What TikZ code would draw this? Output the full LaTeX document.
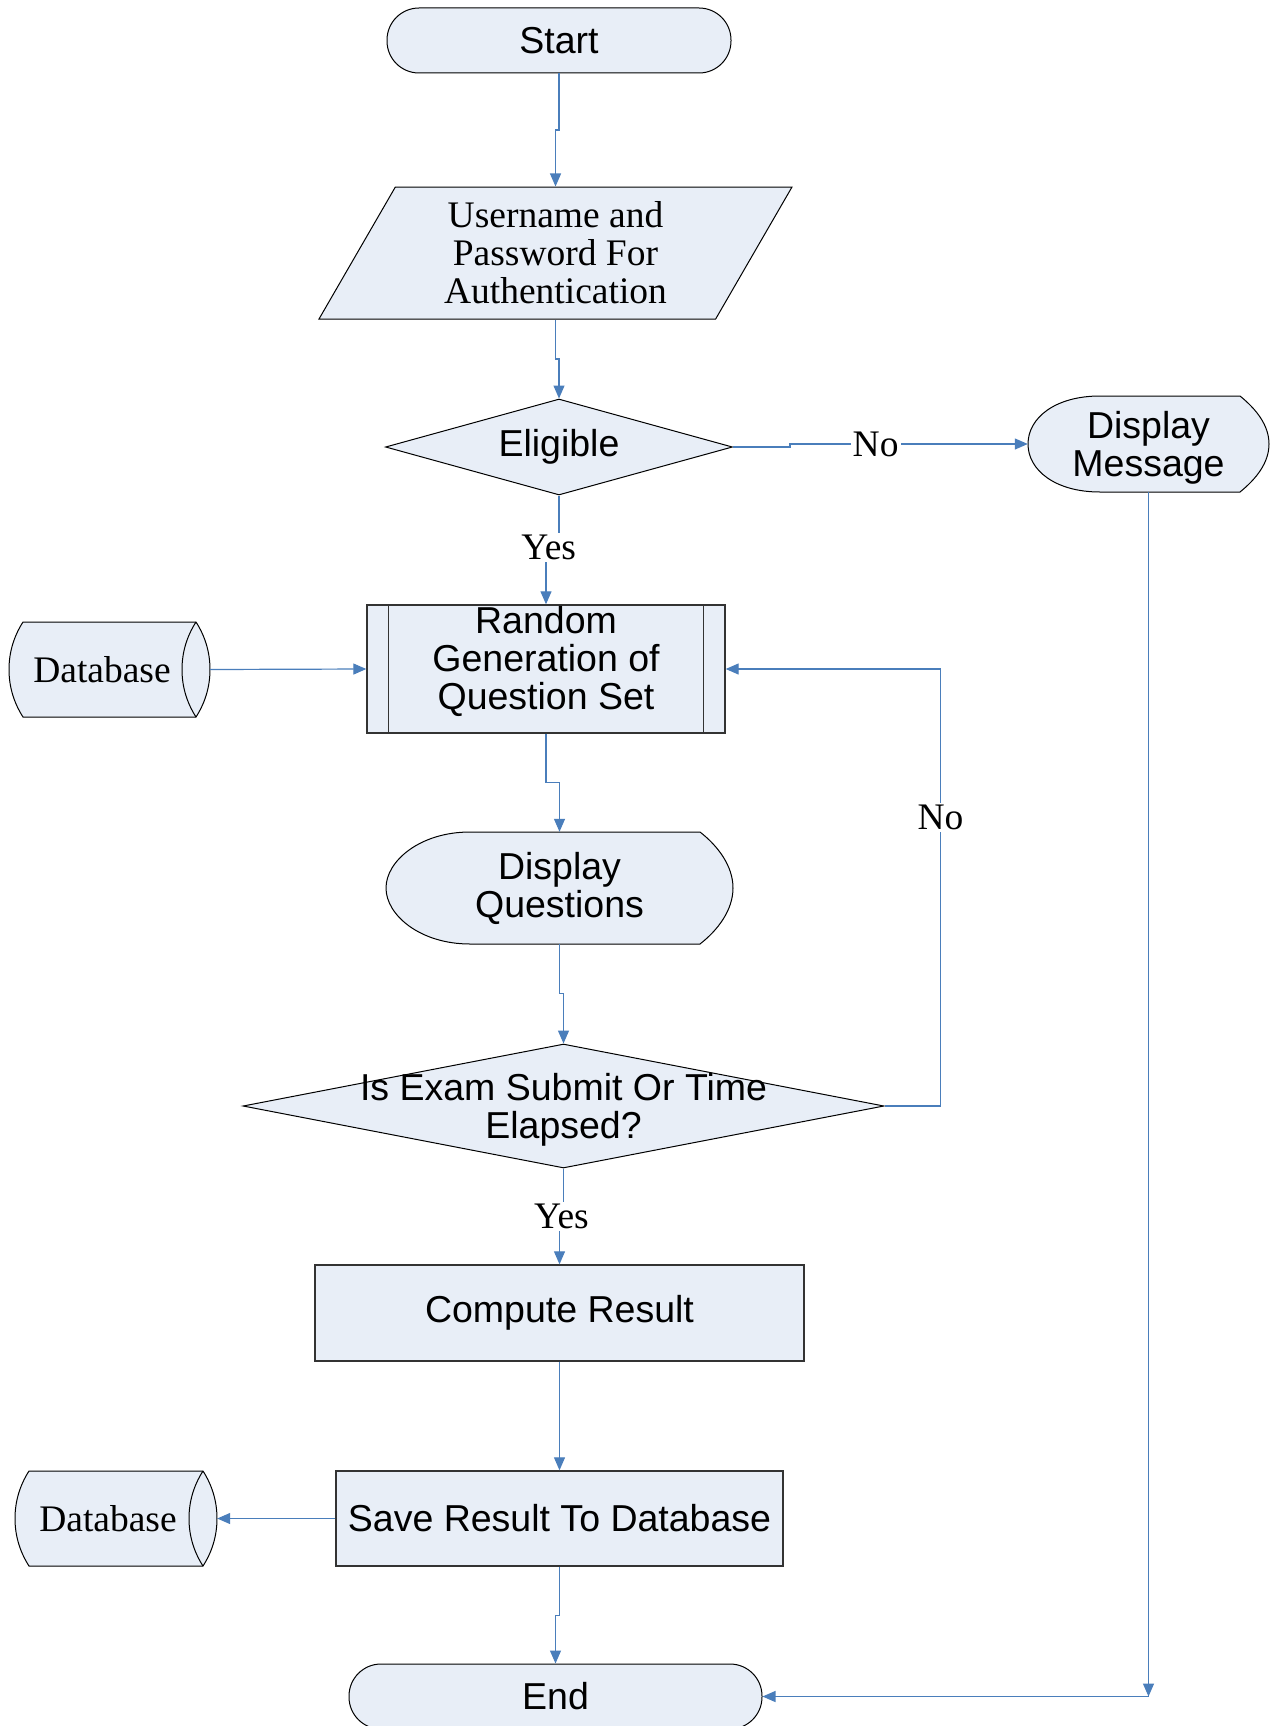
\documentclass[tikz,border=0pt]{standalone}
\usepackage{fontspec}
\setmainfont{Liberation Serif}
\setsansfont{Liberation Sans}
\usetikzlibrary{shapes.geometric,arrows.meta,calc}

\definecolor{boxfill}{RGB}{232,238,247}
\definecolor{flowblue}{RGB}{74,126,187}

\tikzset{
  sanstext/.style={font=\sffamily\fontsize{37.5}{38}\selectfont},
  seriftext/.style={font=\rmfamily\fontsize{37.5}{38}\selectfont},
  terminal/.style={rectangle, rounded corners=32pt, draw=black, fill=boxfill, line width=1pt, minimum height=65pt},
  inputbox/.style={trapezium, trapezium left angle=55, trapezium right angle=125, trapezium stretches body, draw=black, fill=boxfill, line width=1pt, seriftext, align=center},
  decision/.style={diamond, draw=black, fill=boxfill, line width=1pt, inner sep=0pt},
  process/.style={rectangle, draw=black!80, fill=boxfill, line width=1.4pt, align=center},
  dispbox/.style={rectangle, inner sep=0pt, align=center},
  dispfill/.style={draw=black, fill=boxfill, line width=1pt},
  dbbox/.style={rectangle, inner sep=0pt, seriftext},
  flow/.style={draw=flowblue, line width=1.2pt, -{Triangle[length=13pt,width=11pt]}},
  lbl/.style={seriftext, fill=white, inner sep=2pt}
}

\begin{document}
\begin{tikzpicture}[x=1pt, y=-1pt, sanstext]
        \useasboundingbox (0,0) rectangle (1272,1726);
        \fill[white] (0,0) rectangle (1272,1726);
        % display shapes
        \filldraw[dispfill] (1100,396) -- (1240,396) .. controls (1256,409) and (1269,425) .. (1269,444)
            .. controls (1269,463) and (1256,479) .. (1240,492) -- (1100,492)
            .. controls (1055,492) and (1028,470) .. (1028,444) .. controls (1028,418) and (1055,396) .. (1100,396) -- cycle;
        \filldraw[dispfill] (470,832) -- (700,832) .. controls (718,846) and (733,866) .. (733,888)
            .. controls (733,910) and (718,930) .. (700,944) -- (470,944)
            .. controls (420,944) and (386,915) .. (386,888) .. controls (386,861) and (420,832) .. (470,832) -- cycle;
        % database shapes
        \filldraw[dispfill] (23,622) -- (196,622) .. controls (205,636) and (210,652) .. (210,669.5)
            .. controls (210,687) and (205,703) .. (196,717) -- (23,717)
            .. controls (14,703) and (9,687) .. (9,669.5) .. controls (9,652) and (14,636) .. (23,622) -- cycle;
        \draw[dispfill, fill=none] (196,622) .. controls (187,636) and (182,652) .. (182,669.5) .. controls (182,687) and (187,703) .. (196,717);
        \filldraw[dispfill] (29,1471) -- (203,1471) .. controls (212,1485) and (217,1501) .. (217,1518.5)
            .. controls (217,1536) and (212,1552) .. (203,1566) -- (29,1566)
            .. controls (20,1552) and (15,1536) .. (15,1518.5) .. controls (15,1501) and (20,1485) .. (29,1471) -- cycle;
        \draw[dispfill, fill=none] (203,1471) .. controls (194,1485) and (189,1501) .. (189,1518.5) .. controls (189,1536) and (194,1552) .. (203,1566);

        \node[terminal, minimum width=344pt] (start) at (559,40.5) {Start};
        \node[inputbox, minimum width=473pt, minimum height=132pt] (user) at (555.5,253) {Username and\\Password For\\Authentication};
        \node[decision, minimum width=347pt, minimum height=96pt, label=center:Eligible] (elig) at (559,447) {};
        \node[dispbox, minimum width=241pt, minimum height=96pt, text height=72pt] (dmsg) at (1148.5,444) {Display\\Message};
        \node[dbbox, minimum width=216pt, minimum height=96pt] (db1) at (102,669.5) {Database};
        \node[process, minimum width=358pt, minimum height=128pt, inner ysep=0pt, text depth=22pt] (rg) at (546,669) {Random\\Generation of\\Question Set};
        \draw[draw=black!80, line width=1.4pt] ([xshift=22pt]rg.north west) -- ([xshift=22pt]rg.south west);
        \draw[draw=black!80, line width=1.4pt] ([xshift=-22pt]rg.north east) -- ([xshift=-22pt]rg.south east);
        \node[dispbox, minimum width=347pt, minimum height=112pt] (dq) at (559.5,888) {Display\\Questions};
        \node[decision, minimum width=641pt, minimum height=124pt, label={[align=center, yshift=-4pt]center:Is Exam Submit Or Time\\Elapsed?}] (exam) at (563.5,1106) {};
        \node[process, minimum width=489pt, minimum height=96pt] (comp) at (559.5,1313) {Compute Result};
        \node[process, minimum width=447pt, minimum height=95pt] (save) at (559.5,1518.5) {Save Result To Database};
        \node[dbbox, minimum width=218pt, minimum height=95pt] (db2) at (108,1518.5) {Database};
        \node[terminal, minimum width=413pt] (end) at (555.5,1696.5) {End};
        \coordinate (turn) at (dmsg.south |- end.east);

        % connectors
        \draw[flow] (start.south) |- ($(start.south)!.5!(user.north)$) -| (user.north);
        \draw[flow] (user.south) |- ($(user.south)!.5!(elig.north)$) -| (elig.north);
        \draw[flow] (elig.east) -- ++(57,0) |- (dmsg.west) node[lbl, pos=0.68]{No};
        \draw[flow] (elig.south) |- ($(elig.south)!.48!(rg.north)$) node[lbl, xshift=-4pt]{Yes} -| (rg.north);
        \draw[flow] (db1.east) -- (rg.west);
        \draw[flow] (rg.south) |- ($(rg.south)!.5!(dq.north)$) -| (dq.north);
        \draw[flow] (dq.south) |- ($(dq.south)!.5!(exam.north)$) -| (exam.north);
        \draw[flow] (exam.east) -- ++(56,0) |- (rg.east) node[lbl, pos=0.33]{No};
        \draw[flow] (exam.south) |- ($(exam.south)!.5!(comp.north)$) node[lbl]{Yes} -| (comp.north);
        \draw[flow] (comp.south) -- (save.north);
        \draw[flow] (save.west) -- (db2.east);
        \draw[flow] (save.south) |- ($(save.south)!.5!(end.north)$) -| (end.north);
        \draw[flow] (dmsg.south) -- (turn);
        \draw[flow] (turn) -- (end.east);
    \end{tikzpicture}
\end{document}
